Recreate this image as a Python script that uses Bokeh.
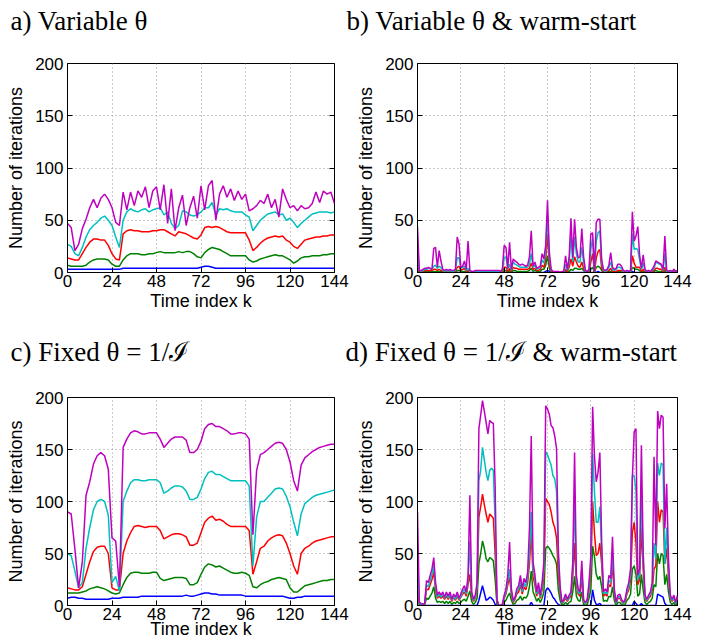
from bokeh.plotting import figure
from bokeh.layouts import column, row
from bokeh.models import FixedTicker, Range1d, LinearAxis
from bokeh.core.properties import value
from bokeh.embed import file_html
from bokeh.resources import INLINE

# ---------------- data ----------------
k_even = list(range(0, 145, 2))   # panels a and c
k_all = list(range(0, 145))       # panels b and d
x_ticks = [0, 24, 48, 72, 96, 120, 144]
y_ticks = [0, 50, 100, 150, 200]
colors = ["#0000ff", "#008000", "#ff0000", "#00bfbf", "#bf00bf"]

# a) Variable theta
a_blue = [3, 3, 3, 3, 3, 3, 3, 3, 3, 3,
          3, 3, 3, 3, 3, 4, 4, 4, 4, 4,
          4, 4, 4, 4, 4, 4, 4, 4, 4, 4,
          4, 4, 4, 4, 4, 4, 5, 6, 6, 5,
          4, 4, 4, 4, 4, 4, 4, 4, 4, 4,
          4, 4, 4, 4, 4, 4, 4, 4, 4, 4,
          4, 4, 4, 4, 4, 4, 4, 4, 4, 4,
          4, 4, 4]
a_green = [7, 6, 6, 6, 6, 7, 10, 12, 13, 13,
           13, 12, 8, 6, 6, 12, 16, 18, 18, 18,
           17, 17, 18, 18, 19, 20, 19, 19, 19, 19,
           20, 19, 20, 20, 18, 15, 14, 19, 22, 24,
           23, 22, 20, 18, 16, 16, 16, 16, 16, 12,
           10, 11, 13, 14, 15, 16, 17, 16, 16, 14,
           12, 9, 11, 14, 15, 15, 16, 16, 16, 17,
           17, 18, 18]
a_red = [14, 13, 12, 12, 18, 24, 29, 32, 32, 31,
         31, 26, 18, 13, 12, 37, 40, 41, 40, 40,
         39, 39, 39, 40, 40, 41, 41, 39, 37, 35,
         39, 38, 37, 35, 33, 32, 36, 43, 44, 43,
         44, 43, 41, 39, 38, 38, 38, 38, 38, 31,
         21, 24, 28, 31, 33, 34, 35, 34, 35, 31,
         29, 25, 23, 27, 31, 32, 33, 34, 34, 35,
         35, 36, 36]
a_cyan = [27, 25, 18, 16, 24, 34, 41, 45, 48, 52,
          54, 50, 45, 34, 24, 50, 58, 61, 59, 58,
          60, 61, 58, 60, 61, 62, 55, 58, 47, 42,
          45, 59, 58, 55, 54, 55, 58, 62, 62, 67,
          55, 61, 60, 61, 59, 58, 58, 58, 55, 53,
          40, 45, 50, 53, 56, 57, 58, 55, 56, 50,
          52, 48, 43, 47, 50, 53, 56, 57, 58, 58,
          58, 57, 58]
a_magenta = [47, 43, 21, 27, 42, 51, 62, 70, 62, 71,
             75, 70, 62, 48, 45, 77, 60, 77, 64, 78,
             72, 82, 62, 78, 82, 60, 84, 47, 80, 40,
             62, 74, 45, 62, 73, 52, 83, 60, 83, 88,
             50, 75, 83, 72, 80, 69, 78, 70, 75, 59,
             61, 64, 69, 66, 75, 62, 70, 53, 80, 70,
             62, 64, 59, 64, 61, 62, 66, 77, 67, 78,
             75, 77, 66]

# b) Variable theta & warm-start
b_blue = [0, 0, 0, 0, 0, 0, 0, 0, 0, 0,
          0, 0, 0, 0, 0, 0, 0, 0, 0, 0,
          0, 0, 0, 0, 0, 0, 0, 0, 0, 0,
          0, 0, 0, 0, 0, 0, 0, 0, 0, 0,
          0, 0, 0, 0, 0, 0, 0, 0, 0, 0,
          0, 0, 0, 0, 0, 0, 0, 0, 0, 0,
          0, 0, 0, 0, 0, 0, 0, 0, 0, 0,
          0, 1, 2, 1, 0, 0, 0, 0, 0, 0,
          0, 0, 0, 0, 0, 0, 0, 0, 0, 0,
          0, 0, 0, 0, 0, 0, 0, 0, 0, 0,
          1, 0, 0, 0, 0, 0, 0, 0, 0, 0,
          0, 0, 0, 0, 0, 0, 0, 0, 0, 1,
          0, 0, 0, 0, 0, 0, 0, 0, 0, 0,
          0, 0, 0, 0, 0, 0, 0, 0, 0, 0,
          0, 0, 0, 0, 0]
b_green = [4, 0, 0, 0, 1, 1, 1, 1, 1, 1,
           1, 1, 1, 1, 0, 0, 0, 0, 0, 0,
           0, 0, 2, 2, 1, 1, 1, 0, 1, 0,
           0, 0, 0, 0, 0, 0, 0, 0, 0, 0,
           0, 0, 0, 0, 0, 0, 0, 0, 2, 2,
           0, 2, 0, 2, 2, 1, 1, 1, 1, 1,
           1, 1, 2, 4, 1, 2, 1, 1, 1, 3,
           3, 7, 16, 4, 0, 0, 0, 0, 0, 0,
           0, 0, 1, 0, 1, 3, 2, 4, 4, 3,
           3, 4, 2, 0, 0, 0, 3, 5, 0, 5,
           6, 5, 2, 0, 0, 0, 1, 1, 0, 0,
           0, 1, 1, 0, 0, 0, 0, 0, 0, 5,
           4, 3, 3, 2, 0, 1, 0, 0, 0, 0,
           0, 1, 2, 1, 1, 1, 0, 2, 0, 0,
           0, 0, 0, 0, 0]
b_red = [12, 1, 1, 1, 2, 2, 2, 2, 2, 3,
         3, 2, 3, 2, 1, 1, 1, 1, 1, 1,
         1, 1, 5, 6, 2, 3, 4, 1, 2, 0,
         0, 0, 0, 0, 0, 0, 0, 0, 0, 0,
         0, 0, 0, 0, 0, 0, 0, 1, 5, 5,
         1, 4, 1, 5, 4, 4, 3, 3, 3, 3,
         3, 3, 4, 9, 3, 4, 2, 2, 3, 7,
         5, 12, 37, 8, 1, 0, 0, 0, 0, 0,
         0, 0, 3, 1, 5, 13, 6, 15, 10, 6,
         5, 10, 4, 0, 0, 1, 10, 18, 0, 14,
         20, 22, 4, 1, 0, 1, 2, 4, 1, 1,
         1, 2, 2, 2, 0, 0, 0, 0, 0, 16,
         9, 5, 5, 5, 1, 3, 1, 0, 0, 0,
         1, 2, 4, 4, 3, 3, 1, 5, 0, 0,
         0, 0, 1, 0, 0]
b_cyan = [25, 2, 1, 2, 3, 3, 4, 4, 3, 6,
          7, 4, 6, 5, 2, 1, 2, 1, 2, 1,
          1, 2, 14, 14, 4, 5, 6, 2, 4, 1,
          1, 1, 1, 1, 1, 1, 1, 1, 1, 1,
          1, 1, 1, 1, 1, 1, 1, 2, 14, 15,
          3, 8, 2, 10, 8, 7, 6, 5, 5, 5,
          5, 5, 8, 18, 5, 7, 3, 4, 5, 12,
          9, 20, 55, 14, 2, 1, 0, 0, 0, 0,
          0, 0, 8, 2, 10, 35, 10, 34, 18, 10,
          10, 24, 10, 1, 1, 2, 22, 33, 1, 30,
          38, 40, 9, 2, 1, 2, 5, 10, 3, 2,
          3, 5, 5, 4, 1, 1, 1, 1, 1, 37,
          22, 23, 22, 12, 3, 9, 2, 1, 1, 1,
          2, 4, 10, 9, 8, 7, 2, 18, 1, 1,
          1, 1, 2, 1, 1]
b_magenta = [44, 2, 2, 3, 4, 4, 5, 4, 3, 23,
             24, 5, 21, 11, 3, 2, 3, 2, 3, 2,
             2, 3, 34, 27, 5, 6, 11, 3, 30, 2,
             1, 1, 2, 2, 2, 2, 2, 2, 2, 2,
             2, 2, 2, 2, 2, 2, 1, 3, 26, 24,
             4, 29, 3, 13, 11, 10, 8, 7, 8, 7,
             6, 7, 15, 40, 6, 10, 4, 5, 6, 18,
             13, 26, 69, 20, 3, 1, 1, 1, 1, 0,
             1, 1, 16, 3, 15, 52, 14, 51, 24, 14,
             15, 42, 15, 2, 1, 3, 37, 38, 1, 48,
             51, 51, 12, 3, 2, 3, 7, 19, 5, 3,
             4, 8, 8, 6, 2, 1, 2, 1, 2, 58,
             30, 35, 44, 17, 4, 17, 3, 1, 2, 1,
             3, 6, 11, 10, 9, 8, 3, 35, 2, 1,
             2, 1, 3, 1, 2]

# c) Fixed theta = 1/I
c_blue = [7, 8, 8, 7, 7, 6, 6, 6, 6, 6,
          6, 6, 7, 7, 7, 8, 8, 8, 8, 8,
          9, 9, 9, 9, 9, 9, 9, 9, 9, 9,
          9, 9, 10, 9, 9, 10, 11, 12, 12, 11,
          11, 10, 10, 10, 10, 10, 10, 10, 9, 9,
          9, 9, 9, 9, 9, 9, 9, 9, 9, 8,
          7, 7, 8, 8, 9, 9, 9, 9, 9, 9,
          9, 9, 9]
c_green = [12, 12, 12, 12, 13, 14, 16, 17, 18, 17,
           16, 14, 12, 11, 12, 20, 27, 31, 32, 32,
           31, 31, 31, 32, 32, 26, 24, 25, 26, 27,
           27, 27, 26, 20, 20, 22, 30, 37, 40, 39,
           37, 38, 36, 34, 32, 31, 31, 32, 31, 29,
           18, 17, 20, 22, 23, 25, 26, 27, 26, 25,
           17, 13, 13, 16, 19, 20, 21, 22, 23, 24,
           24, 25, 25]
c_red = [17, 16, 15, 15, 18, 30, 42, 52, 56, 57,
         57, 50, 17, 15, 15, 50, 62, 70, 76, 77,
         76, 75, 76, 76, 76, 72, 64, 66, 68, 69,
         69, 68, 66, 58, 58, 60, 70, 80, 84, 86,
         82, 83, 81, 78, 76, 76, 76, 76, 76, 72,
         30, 42, 55, 57, 62, 65, 67, 68, 67, 60,
         50, 38, 30, 50, 55, 57, 60, 62, 63, 64,
         65, 66, 66]
c_cyan = [50, 48, 33, 17, 22, 55, 75, 92, 100, 102,
          100, 87, 22, 28, 14, 100, 110, 118, 121, 121,
          120, 120, 121, 121, 121, 118, 108, 110, 113, 115,
          115, 114, 110, 102, 102, 104, 112, 122, 128, 129,
          126, 126, 124, 122, 120, 120, 120, 120, 120, 115,
          38, 85, 100, 100, 104, 108, 112, 113, 112, 105,
          95, 80, 67, 88, 98, 101, 104, 106, 107, 108,
          109, 110, 111]
c_magenta = [90, 88, 54, 17, 42, 106, 119, 136, 144, 147,
             144, 131, 65, 62, 18, 152, 160, 166, 168, 167,
             165, 165, 166, 166, 166, 160, 152, 156, 160, 162,
             162, 162, 159, 147, 147, 150, 158, 170, 174, 175,
             172, 172, 170, 168, 165, 165, 166, 166, 165, 160,
             68, 130, 145, 147, 150, 153, 156, 157, 156, 150,
             138, 120, 110, 135, 142, 145, 148, 150, 152, 153,
             154, 155, 155]

# d) Fixed theta = 1/I & warm-start
d_blue = [0, 0, 0, 0, 0, 0, 0, 0, 0, 0,
          0, 0, 0, 0, 0, 0, 0, 0, 0, 0,
          0, 0, 0, 0, 0, 0, 0, 0, 0, 0,
          0, 0, 0, 0, 5, 12, 19, 12, 5, 6,
          8, 7, 5, 1, 0, 0, 0, 0, 0, 0,
          0, 0, 0, 0, 0, 0, 0, 0, 0, 0,
          0, 0, 0, 3, 0, 0, 0, 0, 0, 0,
          0, 14, 17, 15, 12, 8, 6, 3, 1, 0,
          0, 0, 0, 0, 0, 0, 0, 0, 0, 0,
          0, 0, 0, 0, 0, 0, 0, 15, 5, 1,
          1, 2, 0, 0, 0, 0, 0, 0, 0, 0,
          0, 0, 0, 0, 0, 0, 0, 0, 0, 0,
          4, 2, 0, 0, 2, 0, 0, 0, 0, 0,
          0, 0, 0, 11, 10, 9, 8, 2, 0, 0,
          0, 0, 0, 0, 0]
d_green = [7, 1, 0, 0, 1, 7, 6, 9, 12, 18,
           7, 3, 4, 3, 4, 2, 4, 2, 4, 1,
           3, 2, 4, 2, 3, 5, 6, 4, 9, 14,
           4, 1, 3, 7, 40, 50, 62, 55, 45, 42,
           46, 45, 43, 25, 1, 0, 0, 0, 3, 5,
           9, 12, 5, 1, 2, 5, 6, 9, 5, 8,
           7, 10, 18, 33, 13, 9, 4, 7, 3, 7,
           13, 55, 57, 55, 52, 48, 45, 40, 15, 5,
           0, 1, 3, 1, 3, 4, 13, 28, 9, 5,
           4, 13, 1, 0, 1, 7, 15, 57, 47, 30,
           25, 28, 18, 4, 5, 4, 9, 8, 18, 5,
           0, 3, 3, 1, 0, 1, 5, 7, 11, 35,
           38, 30, 9, 11, 30, 15, 3, 1, 3, 4,
           7, 20, 18, 50, 40, 50, 48, 20, 30, 13,
           3, 1, 3, 0, 3]
d_red = [16, 2, 1, 1, 2, 16, 15, 20, 25, 32,
         15, 7, 9, 7, 9, 6, 9, 6, 9, 4,
         8, 5, 9, 5, 8, 11, 13, 9, 20, 30,
         9, 4, 7, 15, 85, 95, 107, 97, 88, 80,
         88, 86, 84, 50, 4, 0, 0, 1, 7, 11,
         20, 27, 11, 3, 6, 11, 13, 20, 11, 18,
         15, 22, 40, 70, 28, 20, 9, 15, 7, 15,
         28, 103, 100, 97, 90, 80, 75, 65, 30, 12,
         2, 4, 7, 4, 7, 9, 28, 60, 20, 11,
         9, 28, 3, 2, 4, 15, 32, 100, 70, 48,
         50, 60, 40, 9, 11, 9, 20, 18, 40, 11,
         2, 7, 7, 4, 2, 4, 11, 15, 25, 70,
         80, 60, 20, 25, 75, 35, 7, 4, 7, 9,
         15, 35, 38, 100, 80, 92, 90, 40, 55, 28,
         7, 4, 7, 2, 7]
d_cyan = [50, 2, 1, 1, 2, 20, 18, 24, 30, 38,
          18, 8, 11, 8, 11, 7, 11, 7, 11, 5,
          9, 6, 11, 6, 9, 13, 16, 11, 24, 62,
          11, 5, 8, 18, 120, 130, 152, 140, 128, 120,
          130, 132, 130, 80, 5, 0, 0, 1, 8, 13,
          24, 35, 13, 4, 7, 13, 16, 24, 13, 22,
          18, 27, 50, 90, 35, 25, 11, 18, 8, 18,
          35, 148, 145, 140, 135, 125, 122, 110, 45, 15,
          2, 5, 9, 5, 8, 11, 35, 100, 24, 13,
          11, 35, 4, 2, 5, 18, 40, 146, 110, 80,
          80, 95, 50, 11, 13, 11, 24, 22, 50, 13,
          2, 8, 9, 5, 2, 5, 13, 18, 30, 125,
          125, 110, 24, 30, 105, 42, 8, 5, 8, 11,
          18, 60, 45, 137, 125, 137, 135, 40, 75, 35,
          8, 5, 8, 2, 8]
d_magenta = [90, 3, 2, 1, 2, 24, 22, 29, 35, 46,
             22, 10, 13, 10, 13, 8, 13, 9, 13, 6,
             11, 8, 13, 7, 11, 16, 19, 13, 29, 106,
             13, 6, 10, 22, 170, 183, 197, 187, 176, 165,
             178, 176, 175, 115, 6, 0, 0, 1, 10, 16,
             29, 61, 16, 5, 8, 16, 19, 29, 16, 26,
             22, 32, 74, 163, 42, 30, 13, 22, 10, 22,
             42, 192, 189, 184, 173, 171, 163, 151, 54, 18,
             3, 6, 11, 6, 10, 13, 42, 147, 29, 16,
             13, 43, 5, 3, 6, 22, 48, 191, 144, 119,
             128, 147, 61, 13, 16, 13, 29, 26, 66, 16,
             3, 10, 11, 6, 3, 6, 16, 22, 35, 122,
             167, 170, 29, 35, 154, 51, 10, 6, 10, 13,
             22, 143, 58, 187, 170, 183, 181, 74, 117, 45,
             10, 6, 10, 3, 10]

titles = ["a) Variable θ", "b) Variable θ & warm-start",
          "c) Fixed θ = 1/ℐ", "d) Fixed θ = 1/ℐ & warm-start"]


def title_strip(text, width, height, tx, ty):
    """A frameless strip holding one panel title (pixel coordinates)."""
    t = figure(width=width, height=height,
               x_range=Range1d(0, width), y_range=Range1d(0, height),
               output_backend="svg", toolbar_location=None,
               x_axis_location=None, y_axis_location=None, min_border=0,
               background_fill_color="white", border_fill_color="white",
               outline_line_color=None)
    t.grid.visible = False
    t.text(x=[tx], y=[ty], text=[text],
           text_font=value("Liberation Serif"), text_font_size="27px",
           text_color="black", text_baseline="middle", text_align="left")
    return t


def panel(xs, series, width, height, left, right, top, bottom, xlab_standoff):
    p = figure(width=width, height=height,
               x_range=Range1d(0, 144), y_range=Range1d(0, 200),
               output_backend="svg", toolbar_location=None,
               min_border_left=left, min_border_right=right,
               min_border_top=top, min_border_bottom=bottom,
               background_fill_color="white", border_fill_color="white")

    for ys, col in zip(series, colors):
        p.line(xs, ys, line_color=col, line_width=1.5)

    p.xaxis.ticker = FixedTicker(ticks=x_ticks)
    p.yaxis.ticker = FixedTicker(ticks=y_ticks)
    p.xaxis.axis_label = "Time index k"
    p.yaxis.axis_label = "Number of iterations"
    for ax in (p.xaxis[0], p.yaxis[0]):
        ax.major_label_text_font = "Liberation Sans"
        ax.major_label_text_font_size = "17px"
        ax.major_label_text_color = "black"
        ax.axis_label_text_font = "Liberation Sans"
        ax.axis_label_text_font_size = "18px"
        ax.axis_label_text_font_style = "normal"
        ax.axis_label_text_color = "black"
        ax.major_tick_in = 5
        ax.major_tick_out = 0
        ax.minor_tick_line_color = None
        ax.axis_line_color = "black"
        ax.major_tick_line_color = "black"
    p.xaxis.major_label_standoff = 2
    p.xaxis.axis_label_standoff = xlab_standoff
    p.yaxis.major_label_standoff = 4
    p.yaxis.axis_label_standoff = 6

    # box ticks on the right side (no labels)
    r_ax = LinearAxis(ticker=FixedTicker(ticks=y_ticks),
                      major_label_overrides={t: "" for t in y_ticks},
                      major_tick_in=5, major_tick_out=0,
                      minor_tick_line_color=None, axis_line_color=None,
                      major_label_standoff=0)
    p.add_layout(r_ax, "right")

    p.grid.grid_line_color = "#999999"
    p.grid.grid_line_dash = "1 3"
    p.grid.grid_line_width = 1
    p.outline_line_color = "black"
    p.outline_line_width = 1
    p.outline_line_alpha = 1
    return p


ta = title_strip(titles[0], 340, 42, 10, 22)
tb = title_strip(titles[1], 365, 42, 6, 22)
pa = panel(k_even, [a_blue, a_green, a_red, a_cyan, a_magenta],
           353, 279, 67, 19, 21, 49, 1)
pb = panel(k_all, [b_blue, b_green, b_red, b_cyan, b_magenta],
           352, 279, 57, 28, 21, 49, 1)
tc = title_strip(titles[2], 340, 52, 10, 22)
td = title_strip(titles[3], 365, 52, 5, 22)
pc = panel(k_even, [c_blue, c_green, c_red, c_cyan, c_magenta],
           353, 270, 67, 19, 24, 38, -4)
pd = panel(k_all, [d_blue, d_green, d_red, d_cyan, d_magenta],
           352, 270, 57, 28, 24, 38, -4)

layout = column(row(ta, tb), row(pa, pb), row(tc, td), row(pc, pd))
open("out.html", "w").write(file_html(layout, INLINE))
